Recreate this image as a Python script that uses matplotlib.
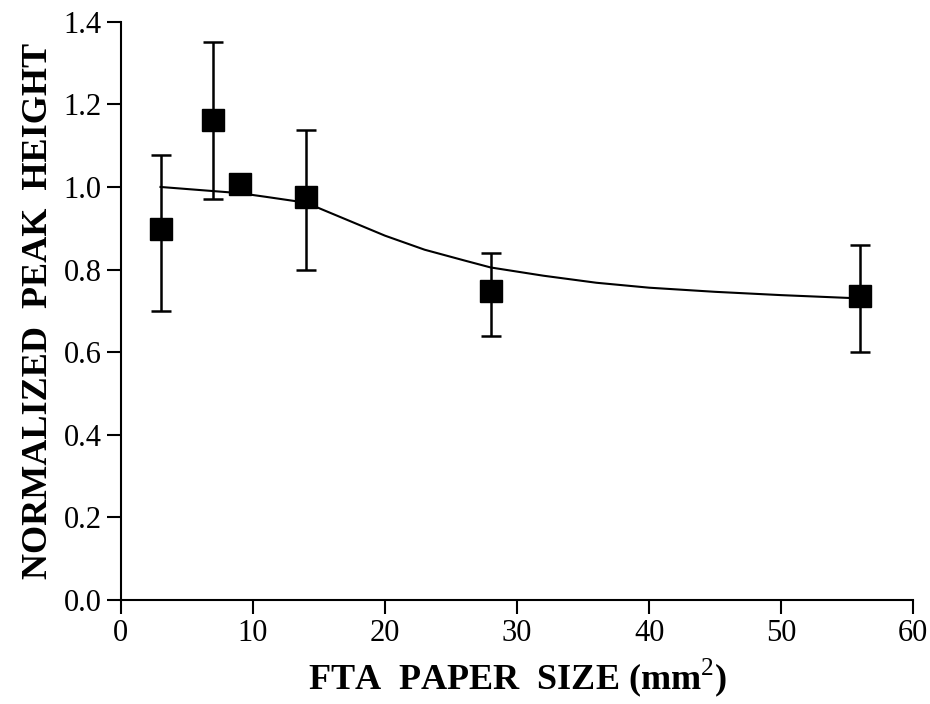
import matplotlib
matplotlib.use("Agg")
import matplotlib.pyplot as plt
import numpy as np

# measured points (FTA paper size in mm^2, normalized peak height)
size_mm2 = [3, 7, 9, 14, 28, 56]
peak_height = [0.898, 1.163, 1.007, 0.975, 0.748, 0.736]
# error bar ends (None where no bar is drawn)
err_low = [0.70, 0.97, None, 0.80, 0.64, 0.60]
err_high = [1.078, 1.352, None, 1.138, 0.84, 0.86]

# fitted curve
fit_x = [3, 5, 7, 9, 11, 14, 17, 20, 23, 26, 28, 32, 36, 40, 45, 50, 56]
fit_y = [1.000, 0.995, 0.990, 0.985, 0.976, 0.962, 0.922, 0.882, 0.848,
         0.822, 0.805, 0.785, 0.768, 0.756, 0.746, 0.738, 0.730]

x_ticks = [0, 10, 20, 30, 40, 50, 60]
y_ticks = [0.0, 0.2, 0.4, 0.6, 0.8, 1.0, 1.2, 1.4]

plt.rcParams['font.family'] = ['Liberation Serif', 'DejaVu Serif']
plt.rcParams['mathtext.fontset'] = 'custom'
plt.rcParams['mathtext.rm'] = 'Liberation Serif'
plt.rcParams['mathtext.bf'] = 'Liberation Serif:bold'

fig = plt.figure(figsize=(9.30, 7.04), dpi=100)
ax = fig.add_axes([0.130, 0.148, 0.852, 0.821])

ax.plot(fit_x, fit_y, color='black', lw=1.5, zorder=2)

eb_x = [x for x, lo in zip(size_mm2, err_low) if lo is not None]
eb_y = [y for y, lo in zip(peak_height, err_low) if lo is not None]
lo = [y - l for y, l in zip(peak_height, err_low) if l is not None]
hi = [h - y for y, h in zip(peak_height, err_high) if h is not None]
ax.errorbar(eb_x, eb_y, yerr=[lo, hi], fmt='none', ecolor='black',
            elinewidth=1.8, capsize=7, capthick=1.8, zorder=3)
ax.plot(size_mm2, peak_height, linestyle='none', marker='s', ms=16.5,
        color='black', zorder=4)

ax.set_xlim(0, 60)
ax.set_ylim(0, 1.4)
ax.set_xticks(x_ticks)
ax.set_yticks(y_ticks)
ax.set_xticklabels([str(t) for t in x_ticks])
ax.set_yticklabels([f'{t:.1f}' for t in y_ticks])
ax.tick_params(direction='out', length=10, width=1.5, labelsize=22, pad=4)
for s in ['top', 'right']:
    ax.spines[s].set_visible(False)
for s in ['left', 'bottom']:
    ax.spines[s].set_linewidth(1.5)

ax.set_xlabel('FTA  PAPER  SIZE (mm$^{\\mathrm{2}}$)', fontsize=26, fontweight='bold', labelpad=6)
ax.set_ylabel('NORMALIZED  PEAK  HEIGHT', fontsize=26, fontweight='bold', labelpad=6)

fig.savefig('out.png', dpi=100)
